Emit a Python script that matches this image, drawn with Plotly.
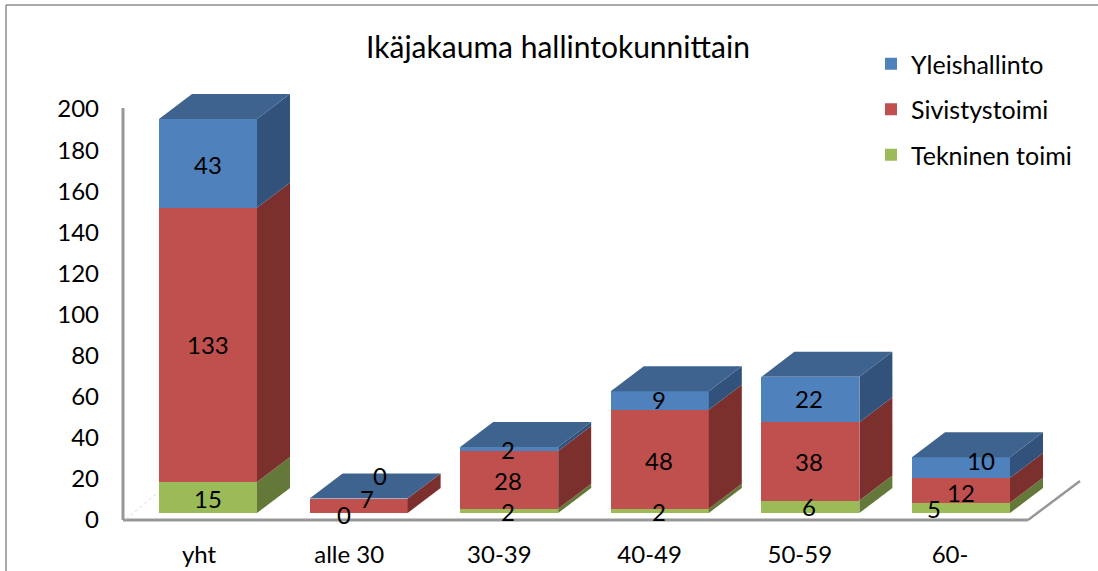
import plotly.graph_objects as go

categories = ["yht", "alle 30", "30-39", "40-49", "50-59", "60-"]
tekninen = [15, 0, 2, 2, 6, 5]
sivistys = [133, 7, 28, 48, 38, 12]
yleis = [43, 0, 2, 9, 22, 10]
y_ticks = list(range(0, 201, 20))

series = [
    ("Tekninen toimi", tekninen, "#9BBB59", "#64783A", 3),
    ("Sivistystoimi", sivistys, "#C0504D", "#7B302E", 2),
    ("Yleishallinto", yleis, "#4F81BD", "#32527B", 1),
]
TOP_COLOR = "#3E638F"

# label nudges in pixels (dx, dy down) per series per category, as placed in the reference
nudges = {
    "Tekninen toimi": [(0, 1), (-15, 1), (-1, 1), (-1, 1), (-1, 0), (-27, 1)],
    "Sivistystoimi": [(0, 0), (8, -7), (-1, 1), (-1, 1), (-1, 0), (0, 2)],
    "Yleishallinto": [(0, 1), (21, -23), (-1, 0), (-1, -1), (-1, -1), (20, -7)],
}

W, H = 1098, 571
ML, MR, MT, MB = 124, 8, 20, 40
FONT = "Lato"
FS = 24

# pixel scales of the two overlaid coordinate systems
LBL_X0, LBL_XU = 199.0, 150.2
BAR_X0, BAR_XU = 208.0, 150.6
AX_Y0, AX_YU = 520.0, 2.055
BAR_Y0, BAR_YU = 513.0, 2.063
BAR_W = 98 / BAR_XU
DX = 33 / BAR_XU
DY = 25 / BAR_YU


def xr(x0, u):
    return [(ML - x0) / u, (W - MR - x0) / u]


def yr(y0, u):
    return [(y0 - (H - MB)) / u, (y0 - MT) / u]


fig = go.Figure()
xs = list(range(len(categories)))

# invisible trace carrying the category axis
fig.add_trace(go.Scatter(x=xs, y=[0] * len(xs), mode="none", showlegend=False,
                         hoverinfo="skip", xaxis="x", yaxis="y"))

# floor hint
fig.add_trace(go.Scatter(x=[-0.545, -0.33], y=[-3, 10], mode="lines", showlegend=False,
                         hoverinfo="skip", xaxis="x2", yaxis="y2",
                         line=dict(color="#D9D9D9", width=1, dash="dot")))

for name, vals, col, side, rank in series:
    fig.add_trace(go.Bar(x=xs, y=vals, name=name, legendgroup=name, legendrank=rank,
                         marker=dict(color=col, line_width=0),
                         width=BAR_W, xaxis="x2", yaxis="y2"))

# side faces and top faces
totals = [0] * len(xs)
for name, vals, col, side, rank in series:
    for i, v in enumerate(vals):
        if v > 0:
            r = i + BAR_W / 2
            y0, y1 = totals[i], totals[i] + v
            fig.add_trace(go.Scatter(x=[r, r + DX, r + DX, r, r], y=[y0, y0 + DY, y1 + DY, y1, y0],
                                     mode="lines", fill="toself", fillcolor=side, line_width=0,
                                     showlegend=False, hoverinfo="skip", xaxis="x2", yaxis="y2"))
        totals[i] += v
for i, t in enumerate(totals):
    l, r = i - BAR_W / 2, i + BAR_W / 2
    fig.add_trace(go.Scatter(x=[l, r, r + DX, l + DX, l], y=[t, t, t + DY, t + DY, t],
                             mode="lines", fill="toself", fillcolor=TOP_COLOR, line_width=0,
                             showlegend=False, hoverinfo="skip", xaxis="x2", yaxis="y2"))

# value labels
ann = []
running = [0] * len(xs)
for name, vals, col, side, rank in series:
    for i, v in enumerate(vals):
        dx, dy = nudges[name][i]
        ann.append(dict(x=i, y=running[i] + v / 2, xref="x2", yref="y2", text=str(v), showarrow=False,
                        xshift=dx, yshift=-dy, font=dict(family=FONT, size=FS, color="black")))
        running[i] += v


def px_line(x0, y0, x1, y1, color, width):
    return dict(type="line", xref="paper", yref="paper", layer="below",
                x0=(x0 - ML) / (W - ML - MR), x1=(x1 - ML) / (W - ML - MR),
                y0=(H - MB - y0) / (H - MT - MB), y1=(H - MB - y1) / (H - MT - MB),
                line=dict(color=color, width=width))


shapes = [
    px_line(6, 5, 1098, 5, "#8C8C8C", 1.5),
    px_line(6, 5, 6, 571, "#8C8C8C", 1.5),
    px_line(123, 108, 123, 520, "#979797", 3),
    px_line(123, 520, 1028, 520, "#979797", 3),
    px_line(1028, 520, 1080, 481, "#979797", 2.5),
]

fig.update_layout(
    width=W, height=H, autosize=False,
    margin=dict(l=ML, r=MR, t=MT, b=MB, autoexpand=False),
    paper_bgcolor="white", plot_bgcolor="rgba(0,0,0,0)",
    barmode="stack", bargap=0,
    font=dict(family=FONT, size=FS, color="black"),
    title=dict(text="Ikäjakauma hallintokunnittain", x=558 / W, xanchor="center",
               y=1 - 47 / H, yanchor="middle", font=dict(family=FONT, size=30, color="black")),
    xaxis=dict(domain=[0, 1], range=xr(LBL_X0, LBL_XU), tickvals=xs, ticktext=categories, showgrid=False,
               zeroline=False, showline=False, ticks="", ticklabelstandoff=7, automargin=False,
               tickfont=dict(family=FONT, size=FS, color="black")),
    yaxis=dict(domain=[0, 1], range=yr(AX_Y0, AX_YU), tickvals=y_ticks, showgrid=False, zeroline=False,
               showline=False, ticks="", ticklabelstandoff=24, automargin=False,
               tickfont=dict(family=FONT, size=FS, color="black")),
    xaxis2=dict(domain=[0, 1], range=xr(BAR_X0, BAR_XU), overlaying="x", anchor="y2", visible=False),
    yaxis2=dict(domain=[0, 1], range=yr(BAR_Y0, BAR_YU), overlaying="y", anchor="x2", visible=False),
    legend=dict(x=(871 - ML) / (W - ML - MR), xanchor="left", y=(H - MB - 41) / (H - MT - MB), yanchor="top",
                traceorder="grouped", tracegroupgap=10, itemwidth=30,
                font=dict(family=FONT, size=25, color="black"), bgcolor="rgba(0,0,0,0)"),
    annotations=ann, shapes=shapes,
    hovermode=False,
)

fig.write_html("out.html", config={"displayModeBar": False},
               post_script="document.body.style.margin='0';document.body.style.overflow='hidden';")
